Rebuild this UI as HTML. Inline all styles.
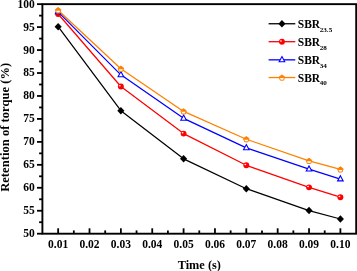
<!DOCTYPE html>
<html><head><meta charset="utf-8"><title>Retention of torque</title>
<style>html,body{margin:0;padding:0;background:#fff;overflow:hidden}</style></head>
<body>
<svg width="357" height="271" viewBox="0 0 357 271" style="display:block" font-family="'Liberation Serif', serif" font-weight="bold">
<rect width="357" height="271" fill="#fff"/>
<polyline points="58.15,26.74 120.87,110.66 183.59,158.87 246.31,188.71 309.03,210.61 340.39,219.01" fill="none" stroke="#000000" stroke-width="1.25" stroke-linejoin="round"/>
<polygon points="58.15,22.99 61.70,26.74 58.15,30.49 54.60,26.74" fill="#000000"/>
<polygon points="120.87,106.91 124.42,110.66 120.87,114.41 117.32,110.66" fill="#000000"/>
<polygon points="183.59,155.12 187.14,158.87 183.59,162.62 180.04,158.87" fill="#000000"/>
<polygon points="246.31,184.96 249.86,188.71 246.31,192.46 242.76,188.71" fill="#000000"/>
<polygon points="309.03,206.86 312.58,210.61 309.03,214.36 305.48,210.61" fill="#000000"/>
<polygon points="340.39,215.26 343.94,219.01 340.39,222.76 336.84,219.01" fill="#000000"/>
<polyline points="58.15,14.02 120.87,86.47 183.59,133.62 246.31,165.29 309.03,187.33 340.39,197.20" fill="none" stroke="#ff0000" stroke-width="1.25" stroke-linejoin="round"/>
<circle cx="58.15" cy="14.02" r="2.95" fill="#ff0000"/><ellipse cx="57.15" cy="13.22" rx="0.95" ry="0.75" fill="#fff" fill-opacity="0.92"/>
<circle cx="120.87" cy="86.47" r="2.95" fill="#ff0000"/><ellipse cx="119.87" cy="85.67" rx="0.95" ry="0.75" fill="#fff" fill-opacity="0.92"/>
<circle cx="183.59" cy="133.62" r="2.95" fill="#ff0000"/><ellipse cx="182.59" cy="132.82" rx="0.95" ry="0.75" fill="#fff" fill-opacity="0.92"/>
<circle cx="246.31" cy="165.29" r="2.95" fill="#ff0000"/><ellipse cx="245.31" cy="164.49" rx="0.95" ry="0.75" fill="#fff" fill-opacity="0.92"/>
<circle cx="309.03" cy="187.33" r="2.95" fill="#ff0000"/><ellipse cx="308.03" cy="186.53" rx="0.95" ry="0.75" fill="#fff" fill-opacity="0.92"/>
<circle cx="340.39" cy="197.20" r="2.95" fill="#ff0000"/><ellipse cx="339.39" cy="196.40" rx="0.95" ry="0.75" fill="#fff" fill-opacity="0.92"/>
<polyline points="58.15,11.86 120.87,74.85 183.59,118.33 246.31,147.85 309.03,169.20 340.39,179.07" fill="none" stroke="#0000ff" stroke-width="1.25" stroke-linejoin="round"/>
<polygon points="58.15,8.56 60.95,13.71 55.35,13.71" fill="#fff" stroke="#0000ff" stroke-width="1.1"/>
<polygon points="120.87,71.55 123.67,76.70 118.07,76.70" fill="#fff" stroke="#0000ff" stroke-width="1.1"/>
<polygon points="183.59,115.03 186.39,120.18 180.79,120.18" fill="#fff" stroke="#0000ff" stroke-width="1.1"/>
<polygon points="246.31,144.55 249.11,149.70 243.51,149.70" fill="#fff" stroke="#0000ff" stroke-width="1.1"/>
<polygon points="309.03,165.90 311.83,171.05 306.23,171.05" fill="#fff" stroke="#0000ff" stroke-width="1.1"/>
<polygon points="340.39,175.77 343.19,180.92 337.59,180.92" fill="#fff" stroke="#0000ff" stroke-width="1.1"/>
<polyline points="58.15,10.21 120.87,68.75 183.59,111.40 246.31,139.22 309.03,160.89 340.39,169.43" fill="none" stroke="#ff8000" stroke-width="1.25" stroke-linejoin="round"/>
<polygon points="58.15,7.58 60.91,9.58 59.85,12.83 56.45,12.83 55.39,9.58" fill="#fff" stroke="#ff8000" stroke-width="1.0"/><polygon points="58.15,7.58 60.91,9.58 60.56,10.66 55.74,10.66 55.39,9.58" fill="#ff8000"/>
<polygon points="120.87,66.12 123.63,68.12 122.57,71.36 119.17,71.36 118.11,68.12" fill="#fff" stroke="#ff8000" stroke-width="1.0"/><polygon points="120.87,66.12 123.63,68.12 123.28,69.20 118.46,69.20 118.11,68.12" fill="#ff8000"/>
<polygon points="183.59,108.77 186.35,110.77 185.29,114.01 181.89,114.01 180.83,110.77" fill="#fff" stroke="#ff8000" stroke-width="1.0"/><polygon points="183.59,108.77 186.35,110.77 186.00,111.85 181.18,111.85 180.83,110.77" fill="#ff8000"/>
<polygon points="246.31,136.59 249.07,138.59 248.01,141.83 244.61,141.83 243.55,138.59" fill="#fff" stroke="#ff8000" stroke-width="1.0"/><polygon points="246.31,136.59 249.07,138.59 248.72,139.67 243.90,139.67 243.55,138.59" fill="#ff8000"/>
<polygon points="309.03,158.26 311.79,160.26 310.73,163.50 307.33,163.50 306.27,160.26" fill="#fff" stroke="#ff8000" stroke-width="1.0"/><polygon points="309.03,158.26 311.79,160.26 311.44,161.34 306.62,161.34 306.27,160.26" fill="#ff8000"/>
<polygon points="340.39,166.80 343.15,168.80 342.09,172.04 338.69,172.04 337.63,168.80" fill="#fff" stroke="#ff8000" stroke-width="1.0"/><polygon points="340.39,166.80 343.15,168.80 342.80,169.88 337.98,169.88 337.63,168.80" fill="#ff8000"/>
<rect x="42.4" y="4.15" width="313.8" height="229.54999999999998" fill="none" stroke="#000" stroke-width="1.9"/>
<line x1="37.00" y1="233.70" x2="42.40" y2="233.70" stroke="#000" stroke-width="1.8"/>
<text x="34.7" y="237.15" font-size="11.5" text-anchor="end">50</text>
<line x1="39.10" y1="222.22" x2="42.40" y2="222.22" stroke="#000" stroke-width="1.8"/>
<line x1="37.00" y1="210.75" x2="42.40" y2="210.75" stroke="#000" stroke-width="1.8"/>
<text x="34.7" y="214.19" font-size="11.5" text-anchor="end">55</text>
<line x1="39.10" y1="199.27" x2="42.40" y2="199.27" stroke="#000" stroke-width="1.8"/>
<line x1="37.00" y1="187.79" x2="42.40" y2="187.79" stroke="#000" stroke-width="1.8"/>
<text x="34.7" y="191.24" font-size="11.5" text-anchor="end">60</text>
<line x1="39.10" y1="176.31" x2="42.40" y2="176.31" stroke="#000" stroke-width="1.8"/>
<line x1="37.00" y1="164.83" x2="42.40" y2="164.83" stroke="#000" stroke-width="1.8"/>
<text x="34.7" y="168.28" font-size="11.5" text-anchor="end">65</text>
<line x1="39.10" y1="153.36" x2="42.40" y2="153.36" stroke="#000" stroke-width="1.8"/>
<line x1="37.00" y1="141.88" x2="42.40" y2="141.88" stroke="#000" stroke-width="1.8"/>
<text x="34.7" y="145.33" font-size="11.5" text-anchor="end">70</text>
<line x1="39.10" y1="130.40" x2="42.40" y2="130.40" stroke="#000" stroke-width="1.8"/>
<line x1="37.00" y1="118.92" x2="42.40" y2="118.92" stroke="#000" stroke-width="1.8"/>
<text x="34.7" y="122.37" font-size="11.5" text-anchor="end">75</text>
<line x1="39.10" y1="107.45" x2="42.40" y2="107.45" stroke="#000" stroke-width="1.8"/>
<line x1="37.00" y1="95.97" x2="42.40" y2="95.97" stroke="#000" stroke-width="1.8"/>
<text x="34.7" y="99.42" font-size="11.5" text-anchor="end">80</text>
<line x1="39.10" y1="84.49" x2="42.40" y2="84.49" stroke="#000" stroke-width="1.8"/>
<line x1="37.00" y1="73.02" x2="42.40" y2="73.02" stroke="#000" stroke-width="1.8"/>
<text x="34.7" y="76.47" font-size="11.5" text-anchor="end">85</text>
<line x1="39.10" y1="61.54" x2="42.40" y2="61.54" stroke="#000" stroke-width="1.8"/>
<line x1="37.00" y1="50.06" x2="42.40" y2="50.06" stroke="#000" stroke-width="1.8"/>
<text x="34.7" y="53.51" font-size="11.5" text-anchor="end">90</text>
<line x1="39.10" y1="38.58" x2="42.40" y2="38.58" stroke="#000" stroke-width="1.8"/>
<line x1="37.00" y1="27.10" x2="42.40" y2="27.10" stroke="#000" stroke-width="1.8"/>
<text x="34.7" y="30.55" font-size="11.5" text-anchor="end">95</text>
<line x1="39.10" y1="15.63" x2="42.40" y2="15.63" stroke="#000" stroke-width="1.8"/>
<line x1="37.00" y1="4.15" x2="42.40" y2="4.15" stroke="#000" stroke-width="1.8"/>
<text x="34.7" y="7.60" font-size="11.5" text-anchor="end">100</text>
<line x1="58.15" y1="233.70" x2="58.15" y2="228.30" stroke="#000" stroke-width="1.8"/>
<text x="58.15" y="247.90" font-size="11.5" text-anchor="middle">0.01</text>
<line x1="73.83" y1="233.70" x2="73.83" y2="230.40" stroke="#000" stroke-width="1.8"/>
<line x1="89.51" y1="233.70" x2="89.51" y2="228.30" stroke="#000" stroke-width="1.8"/>
<text x="89.51" y="247.90" font-size="11.5" text-anchor="middle">0.02</text>
<line x1="105.19" y1="233.70" x2="105.19" y2="230.40" stroke="#000" stroke-width="1.8"/>
<line x1="120.87" y1="233.70" x2="120.87" y2="228.30" stroke="#000" stroke-width="1.8"/>
<text x="120.87" y="247.90" font-size="11.5" text-anchor="middle">0.03</text>
<line x1="136.55" y1="233.70" x2="136.55" y2="230.40" stroke="#000" stroke-width="1.8"/>
<line x1="152.23" y1="233.70" x2="152.23" y2="228.30" stroke="#000" stroke-width="1.8"/>
<text x="152.23" y="247.90" font-size="11.5" text-anchor="middle">0.04</text>
<line x1="167.91" y1="233.70" x2="167.91" y2="230.40" stroke="#000" stroke-width="1.8"/>
<line x1="183.59" y1="233.70" x2="183.59" y2="228.30" stroke="#000" stroke-width="1.8"/>
<text x="183.59" y="247.90" font-size="11.5" text-anchor="middle">0.05</text>
<line x1="199.27" y1="233.70" x2="199.27" y2="230.40" stroke="#000" stroke-width="1.8"/>
<line x1="214.95" y1="233.70" x2="214.95" y2="228.30" stroke="#000" stroke-width="1.8"/>
<text x="214.95" y="247.90" font-size="11.5" text-anchor="middle">0.06</text>
<line x1="230.63" y1="233.70" x2="230.63" y2="230.40" stroke="#000" stroke-width="1.8"/>
<line x1="246.31" y1="233.70" x2="246.31" y2="228.30" stroke="#000" stroke-width="1.8"/>
<text x="246.31" y="247.90" font-size="11.5" text-anchor="middle">0.07</text>
<line x1="261.99" y1="233.70" x2="261.99" y2="230.40" stroke="#000" stroke-width="1.8"/>
<line x1="277.67" y1="233.70" x2="277.67" y2="228.30" stroke="#000" stroke-width="1.8"/>
<text x="277.67" y="247.90" font-size="11.5" text-anchor="middle">0.08</text>
<line x1="293.35" y1="233.70" x2="293.35" y2="230.40" stroke="#000" stroke-width="1.8"/>
<line x1="309.03" y1="233.70" x2="309.03" y2="228.30" stroke="#000" stroke-width="1.8"/>
<text x="309.03" y="247.90" font-size="11.5" text-anchor="middle">0.09</text>
<line x1="324.71" y1="233.70" x2="324.71" y2="230.40" stroke="#000" stroke-width="1.8"/>
<line x1="340.39" y1="233.70" x2="340.39" y2="228.30" stroke="#000" stroke-width="1.8"/>
<text x="340.39" y="247.90" font-size="11.5" text-anchor="middle">0.10</text>
<text x="199.3" y="268.8" font-size="12.3" text-anchor="middle">Time (s)</text>
<text transform="translate(8.9,127.3) rotate(-90)" font-size="12.5" letter-spacing="0.05" text-anchor="middle">Retention of torque (%)</text>
<line x1="268.6" y1="23.75" x2="295.3" y2="23.75" stroke="#000000" stroke-width="1.3"/>
<polygon points="281.95,20.00 285.50,23.75 281.95,27.50 278.40,23.75" fill="#000000"/>
<text x="297.8" y="28.05" font-size="11.5">SBR<tspan font-size="7.1" dx="-0.4" dy="3.6">23.5</tspan></text>
<line x1="268.6" y1="41.7" x2="295.3" y2="41.7" stroke="#ff0000" stroke-width="1.3"/>
<circle cx="281.95" cy="41.70" r="2.95" fill="#ff0000"/><ellipse cx="280.95" cy="40.90" rx="0.95" ry="0.75" fill="#fff" fill-opacity="0.92"/>
<text x="297.8" y="46.00" font-size="11.5">SBR<tspan font-size="7.1" dx="-0.4" dy="3.6">28</tspan></text>
<line x1="268.6" y1="59.85" x2="295.3" y2="59.85" stroke="#0000ff" stroke-width="1.3"/>
<polygon points="281.95,56.55 284.75,61.70 279.15,61.70" fill="#fff" stroke="#0000ff" stroke-width="1.1"/>
<text x="297.8" y="64.15" font-size="11.5">SBR<tspan font-size="7.1" dx="-0.4" dy="3.6">34</tspan></text>
<line x1="268.6" y1="77.55" x2="295.3" y2="77.55" stroke="#ff8000" stroke-width="1.3"/>
<polygon points="281.95,74.92 284.71,76.92 283.65,80.17 280.25,80.17 279.19,76.92" fill="#fff" stroke="#ff8000" stroke-width="1.0"/><polygon points="281.95,74.92 284.71,76.92 284.36,78.00 279.54,78.00 279.19,76.92" fill="#ff8000"/>
<text x="297.8" y="81.85" font-size="11.5">SBR<tspan font-size="7.1" dx="-0.4" dy="3.6">40</tspan></text>
</svg>
</body></html>
